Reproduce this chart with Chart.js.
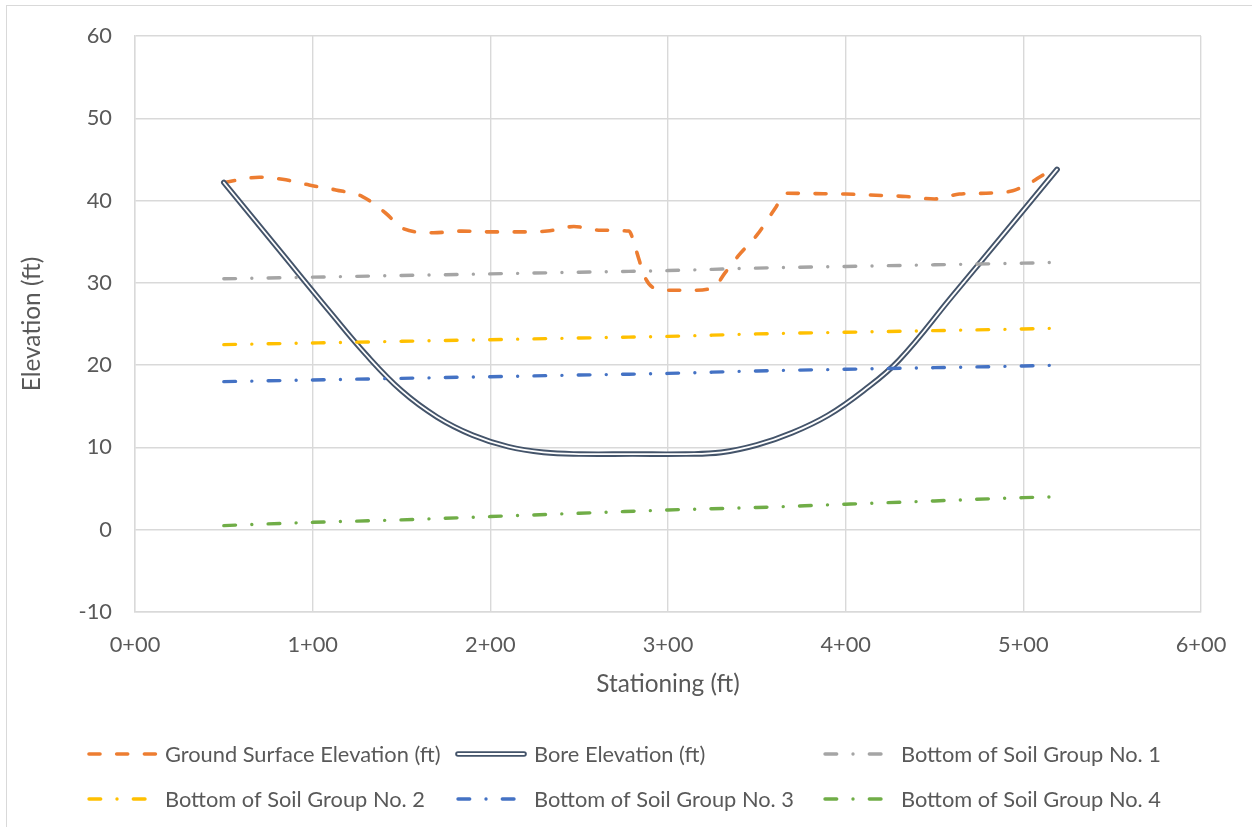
<!DOCTYPE html>
<html>
<head>
<meta charset="utf-8">
<script src="https://cdn.jsdelivr.net/npm/chart.js@4.4.1/dist/chart.umd.min.js"></script>
<style>
  html, body { margin: 0; padding: 0; background: #ffffff; }
  #wrap { width: 1252px; height: 827px; position: relative; }
</style>
</head>
<body>
<div id="wrap"><canvas id="c" width="1252" height="827"></canvas></div>
<script>
// ---------------- DATA ----------------
const xTickLabels = ['0+00', '1+00', '2+00', '3+00', '4+00', '5+00', '6+00'];

const groundX = [50, 70, 83, 98, 113, 128, 141, 151, 168, 184, 200, 215, 232, 247, 262, 278, 282, 287, 293, 303, 314, 326, 332, 340, 350, 361, 366, 383, 400, 417, 434, 450, 464, 479, 494, 505, 511, 519];
const groundY = [42.2, 42.85, 42.6, 41.9, 41.3, 40.5, 38.5, 36.6, 36.1, 36.3, 36.2, 36.2, 36.3, 36.85, 36.4, 36.3, 34.0, 30.7, 29.3, 29.1, 29.1, 29.5, 31.2, 33.4, 35.8, 39.3, 40.9, 40.85, 40.8, 40.65, 40.5, 40.2, 40.8, 40.9, 41.2, 42.3, 43.1, 43.8];

const boreX = [50, 80, 110, 130, 150, 170, 190, 210, 230, 250, 280, 310, 330, 350, 370, 390, 410, 430, 460, 490, 519];
const boreY = [42.2, 34.3, 26.4, 21.3, 16.9, 13.7, 11.5, 10.1, 9.4, 9.2, 9.2, 9.2, 9.4, 10.3, 11.8, 13.9, 16.9, 20.6, 28.4, 36.2, 43.8];

const soilX  = [50, 100, 150, 200, 250, 300, 350, 400, 450, 500, 520];
const soil1Y = [30.5, 30.7, 30.9, 31.1, 31.3, 31.5, 31.8, 32.0, 32.2, 32.4, 32.5];
const soil2Y = [22.5, 22.7, 22.9, 23.1, 23.3, 23.5, 23.8, 24.0, 24.2, 24.4, 24.5];
const soil3Y = [18.0, 18.2, 18.4, 18.6, 18.8, 19.0, 19.3, 19.5, 19.7, 19.9, 20.0];
const soil4Y = [0.5, 0.9, 1.2, 1.6, 2.0, 2.4, 2.7, 3.1, 3.5, 3.9, 4.0];

const seriesNames = [
  'Ground Surface Elevation (ft)',
  'Bore Elevation (ft)',
  'Bottom of Soil Group No. 1',
  'Bottom of Soil Group No. 2',
  'Bottom of Soil Group No. 3',
  'Bottom of Soil Group No. 4'
];

// ---------------- STYLE ----------------
const FAMILY = 'Lato, "Noto Sans", sans-serif';
const TEXT = '#595959';
const GRID = '#D9D9D9';
const C_ORANGE = '#ED7D31', C_BORE = '#44546A', C_GRAY = '#A5A5A5',
      C_YELLOW = '#FFC000', C_BLUE = '#4472C4', C_GREEN = '#70AD47';

const mctx = document.createElement('canvas').getContext('2d');
mctx.font = '100px ' + FAMILY;
const baseSize = 100 * 260 / mctx.measureText('Bottom of Soil Group No. 1').width;
const titleSize = baseSize * 1.118;

const DASH = [11, 16.7];
const DASHDOT = [11.7, 16.3, 0.01, 16.3];
const LW = 3.4;

function pts(xs, ys) { return xs.map((x, i) => ({ x: x, y: ys[i] })); }

function lineDs(label, xs, ys, color, dash, width, smooth) {
  const ds = {
    label: label,
    data: pts(xs, ys),
    borderColor: color,
    backgroundColor: color,
    borderWidth: width,
    borderDash: dash,
    borderCapStyle: 'round',
    borderJoinStyle: 'round',
    pointRadius: 0,
    pointHoverRadius: 0,
    fill: false
  };
  if (smooth === 'spline') { ds.tension = 0.4; }
  else { ds.cubicInterpolationMode = 'monotone'; }
  return ds;
}

const datasets = [
  lineDs(seriesNames[5], soilX, soil4Y, C_GREEN, DASHDOT, LW),
  lineDs(seriesNames[4], soilX, soil3Y, C_BLUE, DASHDOT, LW),
  lineDs(seriesNames[3], soilX, soil2Y, C_YELLOW, DASHDOT, LW),
  lineDs(seriesNames[2], soilX, soil1Y, C_GRAY, DASHDOT, LW),
  lineDs(seriesNames[1] + ' inner', boreX, boreY, '#FFFFFF', [], 1.8, 'spline'),
  lineDs(seriesNames[1], boreX, boreY, C_BORE, [], 5.6, 'spline'),
  lineDs(seriesNames[0], groundX, groundY, C_ORANGE, DASH, 3.6)
];

// legend layout: [sampleX, textX, rowY, kind, color, label]
const legendItems = [
  [87, 165, 754, 'dash', C_ORANGE, seriesNames[0]],
  [455, 534, 754, 'double', C_BORE, seriesNames[1]],
  [823, 901, 754, 'dashdot', C_GRAY, seriesNames[2]],
  [87, 165, 799, 'dashdot', C_YELLOW, seriesNames[3]],
  [456, 534, 799, 'dashdot', C_BLUE, seriesNames[4]],
  [823, 901, 799, 'dashdot', C_GREEN, seriesNames[5]]
];

const decorPlugin = {
  id: 'decor',
  beforeDraw(chart) {
    const ctx = chart.ctx;
    ctx.save();
    ctx.fillStyle = '#ffffff';
    ctx.fillRect(0, 0, chart.width, chart.height);
    ctx.strokeStyle = GRID;
    ctx.lineWidth = 1;
    ctx.strokeRect(6.5, 5.5, chart.width + 10, chart.height + 10);
    ctx.restore();
  },
  afterDraw(chart) {
    const ctx = chart.ctx;
    ctx.save();
    const L = 72;
    legendItems.forEach(it => {
      const [sx, tx, y, kind, color, label] = it;
      ctx.save();
      ctx.beginPath();
      ctx.rect(sx - 4, y - 10, L + 4, 20);
      ctx.clip();
      ctx.lineCap = 'round';
      if (kind === 'double') {
        ctx.setLineDash([]);
        ctx.strokeStyle = color;
        ctx.lineWidth = 5.6;
        ctx.beginPath(); ctx.moveTo(sx + 3, y); ctx.lineTo(sx + L - 3, y); ctx.stroke();
        ctx.strokeStyle = '#ffffff';
        ctx.lineWidth = 1.8;
        ctx.beginPath(); ctx.moveTo(sx + 3, y); ctx.lineTo(sx + L - 3, y); ctx.stroke();
      } else {
        ctx.setLineDash(kind === 'dash' ? DASH : DASHDOT);
        ctx.strokeStyle = color;
        ctx.lineWidth = kind === 'dash' ? 3.6 : LW;
        ctx.beginPath(); ctx.moveTo(sx + 2, y); ctx.lineTo(sx + L, y); ctx.stroke();
      }
      ctx.restore();
      ctx.fillStyle = TEXT;
      ctx.font = baseSize.toFixed(2) + 'px ' + FAMILY;
      ctx.textBaseline = 'middle';
      ctx.textAlign = 'left';
      ctx.fillText(label, tx, y + 1);
    });
    ctx.restore();
  }
};

new Chart(document.getElementById('c'), {
  type: 'line',
  data: { datasets: datasets },
  plugins: [decorPlugin],
  options: {
    responsive: false,
    animation: false,
    devicePixelRatio: 1,
    layout: { padding: { left: 0, top: 35, right: 51, bottom: 125 } },
    plugins: { legend: { display: false }, tooltip: { enabled: false } },
    scales: {
      x: {
        type: 'linear',
        min: 0, max: 600,
        afterFit(s) { s.height = 90; },
        afterBuildTicks(s) { s.ticks = xTickLabels.map((t, i) => ({ value: i * 100 })); },
        ticks: {
          padding: 20,
          color: TEXT,
          font: { family: FAMILY, size: baseSize },
          maxRotation: 0,
          autoSkip: false,
          callback: (v, i) => xTickLabels[i]
        },
        grid: { color: GRID, lineWidth: 1.4, drawTicks: false },
        border: { color: GRID, width: 1.4 },
        title: {
          display: true,
          text: 'Stationing (ft)',
          color: TEXT,
          font: { family: FAMILY, size: titleSize },
          padding: { top: 0, bottom: 702 - 684 - 0.6 * titleSize }
        }
      },
      y: {
        type: 'linear',
        min: -10, max: 60,
        afterFit(s) { s.width = 135; },
        ticks: {
          stepSize: 10,
          padding: 23,
          color: TEXT,
          font: { family: FAMILY, size: baseSize }
        },
        grid: { color: GRID, lineWidth: 1.4, drawTicks: false },
        border: { color: GRID, width: 1.4 },
        title: {
          display: true,
          text: 'Elevation (ft)',
          color: TEXT,
          font: { family: FAMILY, size: titleSize },
          padding: { top: 32 - 0.6 * titleSize, bottom: 0 }
        }
      }
    }
  }
});
</script>
</body>
</html>
